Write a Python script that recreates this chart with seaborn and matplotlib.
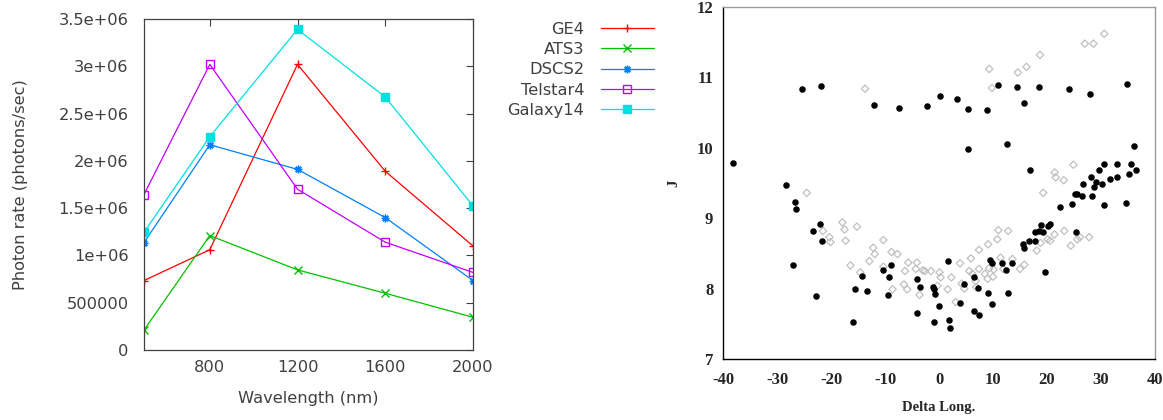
import numpy as np
import pandas as pd
import seaborn as sns
import matplotlib
matplotlib.use("Agg")
import matplotlib.pyplot as plt
from matplotlib.ticker import MultipleLocator

# left panel data
wavelength = [500, 800, 1200, 1600, 2000]
ge4 = [0.734e6, 1.06e6, 3.02e6, 1.89e6, 1.10e6]
ats3 = [0.21e6, 1.21e6, 0.847e6, 0.60e6, 0.346e6]
dscs2 = [1.136e6, 2.17e6, 1.91e6, 1.40e6, 0.734e6]
telstar4 = [1.644e6, 3.02e6, 1.70e6, 1.14e6, 0.82e6]
galaxy14 = [1.245e6, 2.255e6, 3.39e6, 2.675e6, 1.524e6]
series_names = ["GE4", "ATS3", "DSCS2", "Telstar4", "Galaxy14"]
y_tick_vals = [0, 500000, 1e6, 1.5e6, 2e6, 2.5e6, 3e6, 3.5e6]
y_tick_text = ["0", "500000", "1e+06", "1.5e+06", "2e+06", "2.5e+06", "3e+06", "3.5e+06"]
x_tick_vals = [800, 1200, 1600, 2000]

# right panel data (filled dots)
dots_x = [-38.2, -28.3, -26.6, -26.4, -25.4, -21.9, -12.1, -7.5, -2.3, 0.2,
          3.4, 5.4, 8.9, 5.4, 11.0, 12.65, 14.4, 15.7, 16.9, 18.6,
          24.1, 27.9, 34.9, 22.5, 24.7, 25.2, 25.6, 26.4, 26.6, 28.1,
          28.4, 28.7, 29.1, 29.6, 30.2, 30.6, 30.5, 31.7, 32.9, 33.0,
          34.7, 35.2, 35.5, 36.2, 36.4,
          -27.1, -23.3, -22.8, -22.0, -21.7, -15.9, -15.6, -14.2, -13.4, -10.3,
          -9.4, -9.3, -8.8, -4.0, -4.1, -3.5, -1.2, -1.0, -0.7, -0.9,
          0.0, 1.7, 1.85, 2.0, 3.9, 4.7, 6.4, 6.4, 7.3, 7.4,
          9.0, 9.4, 9.75, 9.9, 11.6, 12.5, 12.8, 13.6, 15.6, 15.8,
          16.7, 17.8, 17.8, 18.6, 18.8, 19.3, 19.7, 20.2, 20.6, 25.4]
dots_y = [9.78, 9.47, 9.23, 9.13, 10.84, 10.88, 10.61, 10.57, 10.59, 10.73,
          10.69, 10.55, 10.54, 9.98, 10.89, 10.05, 10.87, 10.63, 9.68, 10.87,
          10.83, 10.76, 10.90, 9.16, 9.20, 9.35, 9.35, 9.32, 9.49, 9.59,
          9.32, 9.45, 9.52, 9.68, 9.49, 9.77, 9.19, 9.56, 9.77, 9.58,
          9.22, 9.63, 9.77, 10.02, 9.68,
          8.33, 8.82, 7.89, 8.92, 8.68, 7.52, 8.00, 8.18, 7.96, 8.26,
          7.91, 8.17, 8.33, 8.13, 7.66, 8.03, 8.02, 7.99, 7.92, 7.52,
          7.76, 8.39, 7.56, 7.44, 7.79, 8.06, 7.68, 8.16, 8.01, 7.63,
          7.94, 8.40, 8.37, 7.78, 8.37, 8.26, 7.94, 8.36, 8.63, 8.57,
          8.68, 8.67, 8.81, 8.82, 8.90, 8.80, 8.24, 8.89, 8.92, 8.81]

# right panel data (faint open symbols)
open_x = [-24.5, 9.3, 14.6, 16.2, 18.7, 21.4, 21.6, 23.1, 24.9, 19.3,
          27.0, 28.6, 30.6, 9.8, -13.7,
          -17.9, -17.5, -17.3, -15.2, -21.5, -20.3, -20.1, -16.4, -14.6, -12.9,
          -12.2, -11.9, -10.3, -10.3, -8.8, -7.7, -8.6, -6.5, -5.9, -6.3,
          -5.7, -4.3, -4.1, -3.0, -2.6, -1.5, -3.6, 0.1, 0.3, -0.3,
          1.6, 2.3, 3.1, 3.9, 4.2, 4.7, 5.6, 5.9, 6.2, 6.8,
          6.9, 7.4, 7.4, 8.5, 9.0, 9.1, 9.3, 10.0, 10.1, 10.8,
          11.0, 11.4, 11.9, 12.8, 13.6, 15.0, 15.8, 18.1, 18.8, 20.1,
          20.6, 21.4, 23.2, 24.4, 25.6, 26.1, 27.8]
open_y = [9.36, 11.12, 11.07, 11.15, 11.32, 9.65, 9.58, 9.54, 9.76, 9.36,
          11.48, 11.48, 11.62, 10.85, 10.84,
          8.94, 8.84, 8.68, 8.88, 8.82, 8.73, 8.66, 8.33, 8.23, 8.39,
          8.58, 8.49, 8.69, 8.31, 8.52, 8.49, 7.99, 8.06, 7.99, 8.25,
          8.37, 8.28, 8.37, 8.26, 8.25, 8.25, 7.91, 8.23, 8.16, 8.04,
          7.99, 8.16, 7.81, 8.36, 8.07, 8.00, 8.25, 8.43, 8.21, 8.11,
          8.02, 8.55, 8.28, 8.21, 8.14, 8.63, 8.29, 8.17, 8.27, 8.70,
          8.83, 8.44, 8.28, 8.82, 8.42, 8.28, 8.34, 8.54, 8.65, 8.70,
          8.68, 8.77, 8.82, 8.61, 8.70, 8.73, 8.73]

sns.set_style("white")
plt.rcParams['font.family'] = ['DejaVu Sans']
plt.rcParams['axes.unicode_minus'] = False

fig = plt.figure(figsize=(11.63, 4.20), dpi=100)

# ---- left: photon rate ----
ax1 = fig.add_axes([0.1238, 0.1667, 0.4067 - 0.1238, 0.9548 - 0.1667])
txt = '#404040'
colors = ['#ff0000', '#00c000', '#0080ff', '#c000ff', '#00e0e0']
markers = ['+', 'x', (8, 2, 0), 's', 's']
faces = ['#ff0000', '#00c000', '#0080ff', 'none', '#00e0e0']
all_y = [ge4, ats3, dscs2, telstar4, galaxy14]

for name, yv, c, m, fc in zip(series_names, all_y, colors, markers, faces):
    df = pd.DataFrame({'w': wavelength, 'rate': yv})
    sns.lineplot(data=df, x='w', y='rate', ax=ax1, color=c, lw=0.9,
                 marker=m, markersize=5.5, markerfacecolor=fc,
                 markeredgecolor=c, markeredgewidth=1.0, label=name)

ax1.set_xlim(500, 2000)
ax1.set_ylim(0, 3.5e6)
ax1.set_xticks(x_tick_vals)
ax1.set_yticks(y_tick_vals)
ax1.set_yticklabels(y_tick_text)
ax1.tick_params(direction='in', top=True, right=True, length=5, width=0.8,
                colors=txt, labelsize=11.7, labelcolor=txt)
ax1.tick_params(axis='y', pad=11)
ax1.tick_params(axis='x', pad=7)
for sp in ax1.spines.values():
    sp.set_color('#404040')
    sp.set_linewidth(0.9)
ax1.set_xlabel('Wavelength (nm)', fontsize=11.7, color=txt, labelpad=12)
ax1.set_ylabel('Photon rate (photons/sec)', fontsize=11.7, color=txt, labelpad=22)
leg = ax1.legend(loc='upper left', bbox_to_anchor=(1.085, 1.012), frameon=False,
                 markerfirst=False, fontsize=11.7, handlelength=3.3,
                 handletextpad=1.0, labelspacing=0.33, borderaxespad=0.0)
for t in leg.get_texts():
    t.set_color(txt)

# ---- right: J vs Delta Long. ----
ax2 = fig.add_axes([0.6217, 0.1452, 0.9931 - 0.6217, 0.9833 - 0.1452])
sns.scatterplot(x=open_x, y=open_y, ax=ax2, s=14, marker='D',
                facecolor='none', edgecolor='#c0c0c0', linewidth=0.9)
sns.scatterplot(x=dots_x, y=dots_y, ax=ax2, s=22, color='black',
                edgecolor='black', linewidth=0)
ax2.set_xlim(-40, 40)
ax2.set_ylim(7, 12)
ax2.xaxis.set_major_locator(MultipleLocator(10))
ax2.xaxis.set_minor_locator(MultipleLocator(2.5))
ax2.yaxis.set_major_locator(MultipleLocator(1))
ax2.yaxis.set_minor_locator(MultipleLocator(0.25))
ax2.tick_params(which='both', direction='in', color='black', width=1.0)
ax2.tick_params(which='major', length=10)
ax2.tick_params(which='minor', length=5)
ax2.tick_params(axis='x', which='major', pad=9)
ax2.tick_params(axis='y', which='major', pad=7)
serif = ['Liberation Serif', 'DejaVu Serif']
for lab in ax2.get_xticklabels() + ax2.get_yticklabels():
    lab.set_family(serif)
    lab.set_fontweight('bold')
    lab.set_fontsize(12)
ax2.spines['left'].set_color('black')
ax2.spines['bottom'].set_color('black')
ax2.spines['top'].set_color('#9a9a9a')
ax2.spines['right'].set_color('#9a9a9a')
for sp in ax2.spines.values():
    sp.set_linewidth(1.0)
ax2.set_xlabel('Delta Long.', family=serif, fontweight='bold', fontsize=10.5, labelpad=10)
ax2.set_ylabel('J', family=serif, fontweight='bold', fontsize=10.5, rotation=90, labelpad=12)

fig.savefig('out.png', dpi=100)
